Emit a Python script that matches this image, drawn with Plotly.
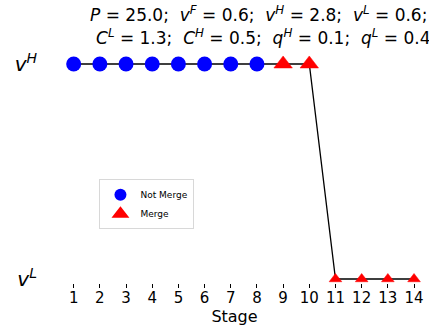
import plotly.graph_objects as go

# Stage-by-stage outcome of the merger game
stages = list(range(1, 15))
value_level = ["H"] * 10 + ["L"] * 4           # which valuation each stage settles on
decision = ["Not Merge"] * 8 + ["Merge"] * 6    # firm decision at each stage

v_H = 2.8
v_L = 0.6
y_vals = [v_H if lv == "H" else v_L for lv in value_level]

title_line1 = "<i>P</i> = 25.0;  <i>v</i><sup><i>F</i></sup> = 0.6;  <i>v</i><sup><i>H</i></sup> = 2.8;  <i>v</i><sup><i>L</i></sup> = 0.6;"
title_line2 = "<i>C</i><sup><i>L</i></sup> = 1.3;  <i>C</i><sup><i>H</i></sup> = 0.5;  <i>q</i><sup><i>H</i></sup> = 0.1;  <i>q</i><sup><i>L</i></sup> = 0.4"

font_family = "DejaVu Sans"

fig = go.Figure()

# connecting path
fig.add_trace(go.Scatter(
    x=stages, y=y_vals, mode="lines",
    line=dict(color="black", width=1.3),
    showlegend=False, hoverinfo="skip", cliponaxis=False,
))

nm_x = [s for s, d in zip(stages, decision) if d == "Not Merge"]
nm_y = [y for y, d in zip(y_vals, decision) if d == "Not Merge"]
m_x = [s for s, d in zip(stages, decision) if d == "Merge"]
m_y = [y for y, d in zip(y_vals, decision) if d == "Merge"]
m_size = [16 if y == v_H else 11 for y in m_y]

fig.add_trace(go.Scatter(
    x=nm_x, y=nm_y, mode="markers", name="Not Merge",
    marker=dict(symbol="circle", color="#0000ff", size=15, opacity=1,
                line=dict(width=0)),
    cliponaxis=False,
))
fig.add_trace(go.Scatter(
    x=m_x, y=m_y, mode="markers", name="Merge",
    marker=dict(symbol="triangle-up", color="#ff0000", size=m_size, opacity=1,
                line=dict(width=0.5, color="#ff0000")),
    cliponaxis=False,
))

fig.update_layout(
    width=429, height=331,
    margin=dict(l=50, r=5, t=50, b=48),
    paper_bgcolor="white", plot_bgcolor="white",
    font=dict(family=font_family, color="black"),
    showlegend=True,
    legend=dict(
        x=0.134, y=0.445, xanchor="left", yanchor="top",
        bordercolor="#d8d8d8", borderwidth=1, bgcolor="white",
        font=dict(size=9), itemsizing="constant",
        tracegroupgap=0, itemwidth=30,
    ),
    xaxis=dict(
        range=[0.0957, 14.19], tickvals=stages, ticktext=[str(s) for s in stages],
        showgrid=False, zeroline=False, showline=False,
        ticks="outside", ticklen=4, tickcolor="black",
        tickfont=dict(size=15), ticklabelstandoff=-3,
        title=dict(text="Stage", font=dict(size=16), standoff=0),
    ),
    yaxis=dict(
        range=[0.559, 2.943], tickvals=[v_L, v_H],
        ticktext=["<i>v</i><sup><i>L</i></sup>", "<i>v</i><sup><i>H</i></sup>"],
        showgrid=False, zeroline=False, showline=False, ticks="",
        tickfont=dict(size=20), ticklabelstandoff=12,
    ),
)

# title as two centred lines
for txt, xpix, ypix in [(title_line1, 261, 14), (title_line2, 266, 37)]:
    fig.add_annotation(
        text=txt, xref="paper", yref="paper",
        x=(xpix - 50) / 374, y=1 + (50 - ypix) / 233,
        xanchor="center", yanchor="middle",
        showarrow=False, font=dict(size=17),
    )

fig.write_html("out.html")
